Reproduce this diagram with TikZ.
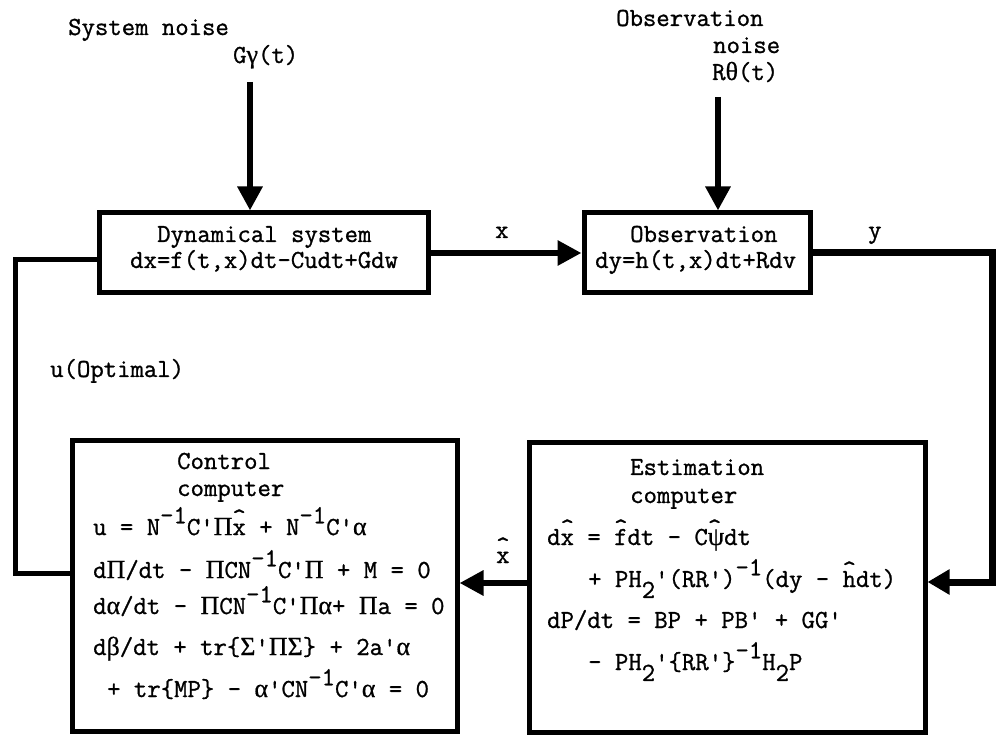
\documentclass[tikz,border=0pt]{standalone}
\usepackage{fontspec}
\setmonofont{Latin Modern Mono}[FakeBold=1]
\newfontfamily\gkfont{Liberation Serif}[FakeBold=0.6]
\usetikzlibrary{arrows.meta}
\newcommand\gk[1]{{\gkfont #1}}
\newcommand\sups[1]{\raisebox{0.45em}{#1}}
\newcommand\subs[1]{\raisebox{-0.42em}{#1}}
\newcommand\hatx[1]{\rlap{\smash{\raisebox{0.36em}{\textasciicircum}}}#1}
\newcommand\q{\textquotesingle}
\begin{document}
\begin{tikzpicture}[x=1pt,y=-1pt,
  font=\fontsize{26}{30}\selectfont\ttfamily,
  box/.style={draw, line width=5pt, inner sep=0pt},
  txt/.style={anchor=base west, inner sep=0pt},
  conn/.style={line width=6pt, -{Triangle[length=24pt,width=24pt]}},
  loopline/.style={line width=5pt}]
\useasboundingbox (0,0) rectangle (1002,735);
% boxes
\node[box, minimum width=329pt, minimum height=80pt] (dyn) at (263.5,253) {};
\node[box, minimum width=226pt, minimum height=80pt] (obs) at (697,253) {};
\node[box, minimum width=385pt, minimum height=291pt] (ctrl) at (264.5,585.5) {};
\node[box, minimum width=396pt, minimum height=290pt] (est) at (727,587) {};
% outside labels
\node[txt] (t1) at (68,35) {System noise};
\node[txt] (t2) at (233,63) {G\gk{γ}(t)};
\node[txt] (t3) at (616,26) {Observation};
\node[txt] (t4) at (713,53) {noise};
\node[txt] (t5) at (712,80) {R\gk{θ}(t)};
\node[txt] (lx) at (495,238) {x};
\node[txt] (ly) at (868,238) {y};
\node[txt] (lu) at (50,377) {u(Optimal)};
\node[txt] (lxh) at (496,563) {\hatx{x}};
% box texts
\node[txt] (d1) at (157,242) {Dynamical system};
\node[txt] (d2) at (130,268) {dx=f(t,x)dt-Cudt+Gdw};
\node[txt] (o1) at (630,242) {Observation};
\node[txt] (o2) at (595,268) {dy=h(t,x)dt+Rdv};
\node[txt] (c1) at (177,469) {Control};
\node[txt] (c2) at (177,496) {computer};
\node[txt] (c3) at (93,535) {u = N\sups{-1}C\q\gk{Π}\hatx{x} + N\sups{-1}C\q\gk{α}};
\node[txt] (c4) at (93,578) {d\gk{Π}/dt - \gk{Π}CN\sups{-1}C\q\gk{Π} + M = 0};
\node[txt] (c5) at (93,614) {d\gk{α}/dt - \gk{Π}CN\sups{-1}C\q\gk{Πα}+ \gk{Π}a = 0};
\node[txt] (c6) at (93,655) {d\gk{β}/dt + tr\{\gk{Σ}\q\gk{ΠΣ}\} + 2a\q\gk{α}};
\node[txt] (c7) at (107,697) {+ tr\{MP\} - \gk{α}\q CN\sups{-1}C\q\gk{α} = 0};
\node[txt] (e1) at (630,475) {Estimation};
\node[txt] (e2) at (630,503) {computer};
\node[txt] (e3) at (547,545) {d\hatx{x} = \hatx{f}dt - C\hatx{\gk{ψ}}dt};
\node[txt] (e4) at (588,587) {+ PH\subs{2}\q(RR\q)\sups{-1}(dy - \hatx{h}dt)};
\node[txt] (e5) at (547,628) {dP/dt = BP + PB\q\ + GG\q};
\node[txt] (e6) at (588,670) {- PH\subs{2}\q\{RR\q\}\sups{-1}H\subs{2}P};
% connectors
\coordinate (sn) at (250,82);
\coordinate (on) at (718,97);
\draw[conn] (sn) -- (sn |- dyn.north);
\draw[conn] (on) -- (on |- obs.north);
\draw[conn] (dyn.east) -- (obs.west);
\coordinate (yc) at (992,253);
\coordinate (ye) at (992,582);
\draw[line width=7pt, -{Triangle[length=22pt,width=24pt]}] (obs.east) -- (yc) -- (ye) -- (est.east |- ye);
\coordinate (xh) at (500,583);
\draw[conn] (est.west |- xh) -- (ctrl.east |- xh);
\coordinate (lb) at (15,573);
\coordinate (lt) at (15,260);
\draw[loopline] (ctrl.west |- lb) -- (lb) -- (lt) -- (dyn.west |- lt);
\end{tikzpicture}
\end{document}
